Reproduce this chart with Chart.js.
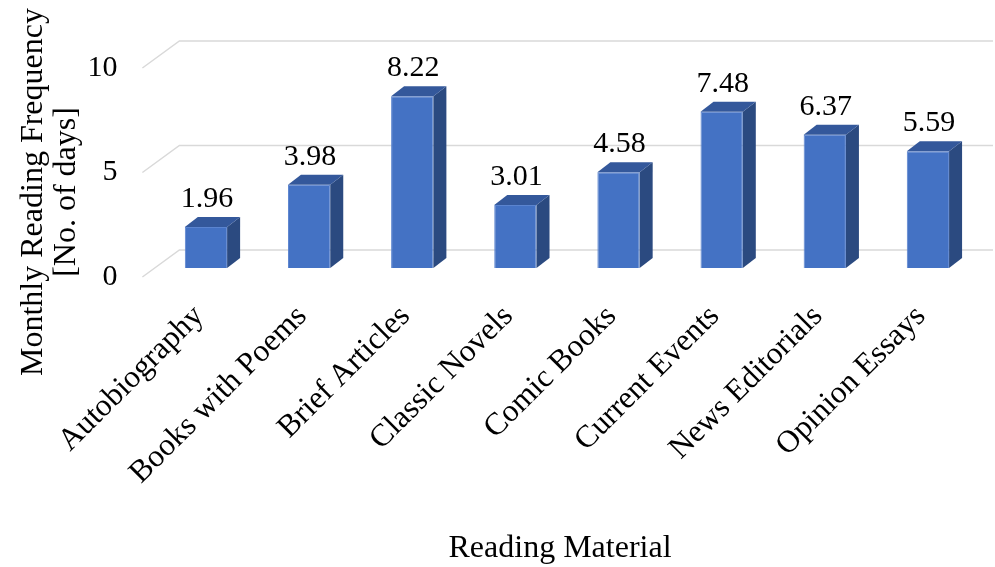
<!DOCTYPE html>
<html>
<head>
<meta charset="utf-8">
<script src="https://cdn.jsdelivr.net/npm/chart.js@4"></script>
<style>
    html, body { margin: 0; padding: 0; background: #fff; }
</style>
</head>
<body>
<canvas id="chartReading" width="995" height="567"></canvas>
<script>
/************** data ************/
const categories = ['Autobiography', 'Books with Poems', 'Brief Articles', 'Classic Novels',
                    'Comic Books', 'Current Events', 'News Editorials', 'Opinion Essays'];
const frequencyValues = [1.96, 3.98, 8.22, 3.01, 4.58, 7.48, 6.37, 5.59];
const yTicks = [0, 5, 10];
const yTitleLines = ['Monthly Reading Frequency', '[No. of days]'];
const xTitle = 'Reading Material';

// style
const FONT = "'Times New Roman', 'Liberation Serif', serif";
const FRONT_COLOR = '#4472C4';
const SIDE_COLOR = '#2b4a80';
const TOP_COLOR = '#34589b';
const GRID_COLOR = '#d9d9d9';

// 3d offsets (px)
const DEPTH_X = 13, DEPTH_Y = 10;   // bar depth
const WALL_X = 25, WALL_Y = 18;     // bar front -> back wall
const FLOOR_X = 12, FLOOR_Y = 9;    // bar front -> floor front edge

// 3d bar / gridline plugin
const bar3dPlugin = {
    id: 'bar3d',
    beforeDatasetsDraw(chart) {
        const { ctx, chartArea, scales: { y } } = chart;
        ctx.save();
        ctx.strokeStyle = GRID_COLOR;
        ctx.lineWidth = 1.5;
        yTicks.forEach(v => {
            const py = y.getPixelForValue(v);
            ctx.beginPath();
            ctx.moveTo(chartArea.left - FLOOR_X, py + FLOOR_Y);
            ctx.lineTo(chartArea.left + WALL_X, py - WALL_Y);
            ctx.lineTo(chart.width - 2, py - WALL_Y);
            ctx.stroke();
        });
        ctx.restore();
    },
    afterDatasetsDraw(chart) {
        const ctx = chart.ctx;
        const meta = chart.getDatasetMeta(0);
        ctx.save();
        meta.data.forEach((bar, i) => {
            const { x, y, base, width } = bar.getProps(['x', 'y', 'base', 'width'], true);
            const left = x - width / 2;
            const right = x + width / 2;

            // side face
            ctx.fillStyle = SIDE_COLOR;
            ctx.beginPath();
            ctx.moveTo(right, y);
            ctx.lineTo(right + DEPTH_X, y - DEPTH_Y);
            ctx.lineTo(right + DEPTH_X, base - DEPTH_Y);
            ctx.lineTo(right, base);
            ctx.closePath();
            ctx.fill();

            // top face
            ctx.fillStyle = TOP_COLOR;
            ctx.beginPath();
            ctx.moveTo(left, y);
            ctx.lineTo(left + DEPTH_X, y - DEPTH_Y);
            ctx.lineTo(right + DEPTH_X, y - DEPTH_Y);
            ctx.lineTo(right, y);
            ctx.closePath();
            ctx.fill();

            // value label
            ctx.fillStyle = '#000';
            ctx.font = `30px ${FONT}`;
            ctx.textAlign = 'center';
            ctx.textBaseline = 'alphabetic';
            ctx.fillText(frequencyValues[i].toFixed(2), x + 1, y - 20);
        });
        ctx.restore();
    },
    afterDraw(chart) {
        const ctx = chart.ctx;
        ctx.save();
        ctx.fillStyle = '#000';
        ctx.font = `32px ${FONT}`;
        ctx.textAlign = 'center';
        ctx.textBaseline = 'alphabetic';

        // x axis title
        ctx.fillText(xTitle, 560, 557);

        // y axis title (2 lines, rotated)
        ctx.translate(42, 192);
        ctx.rotate(-Math.PI / 2);
        yTitleLines.forEach((line, i) => ctx.fillText(line, 0, i * 33));
        ctx.restore();
    }
};

function getChart(id) {
    const ctx = document.getElementById(id);

    new Chart(ctx, {
        type: 'bar',
        data: {
            labels: categories,
            datasets: [{
                label: xTitle,
                data: frequencyValues,
                backgroundColor: FRONT_COLOR,
                borderColor: '#5b84cf',
                borderWidth: 1,
                barPercentage: 0.41,
                categoryPercentage: 1.0
            }]
        },
        options: {
            responsive: false,
            animation: false,
            layout: {
                padding: { left: 0, right: 15.5, top: 59, bottom: 0 }
            },
            plugins: {
                legend: { display: false },
                tooltip: { enabled: false }
            },
            scales: {
                x: {
                    grid: { display: false, drawTicks: false },
                    border: { display: false },
                    ticks: {
                        autoSkip: false,
                        maxRotation: 45,
                        minRotation: 45,
                        padding: 30,
                        labelOffset: -7,
                        color: '#000',
                        font: { family: FONT, size: 31.5 }
                    },
                    afterFit(scale) { scale.height = 299; }
                },
                y: {
                    min: 0,
                    max: 10,
                    grid: { display: false, drawTicks: false },
                    border: { display: false },
                    afterBuildTicks(scale) {
                        scale.ticks = yTicks.map(v => ({ value: v }));
                    },
                    ticks: {
                        padding: 37,
                        labelOffset: 9,
                        color: '#000',
                        font: { family: FONT, size: 30 }
                    },
                    afterFit(scale) { scale.width = 154.4; }
                }
            }
        },
        plugins: [bar3dPlugin]
    });
}

window.addEventListener('DOMContentLoaded', function() {
    getChart('chartReading');
});
</script>
</body>
</html>
